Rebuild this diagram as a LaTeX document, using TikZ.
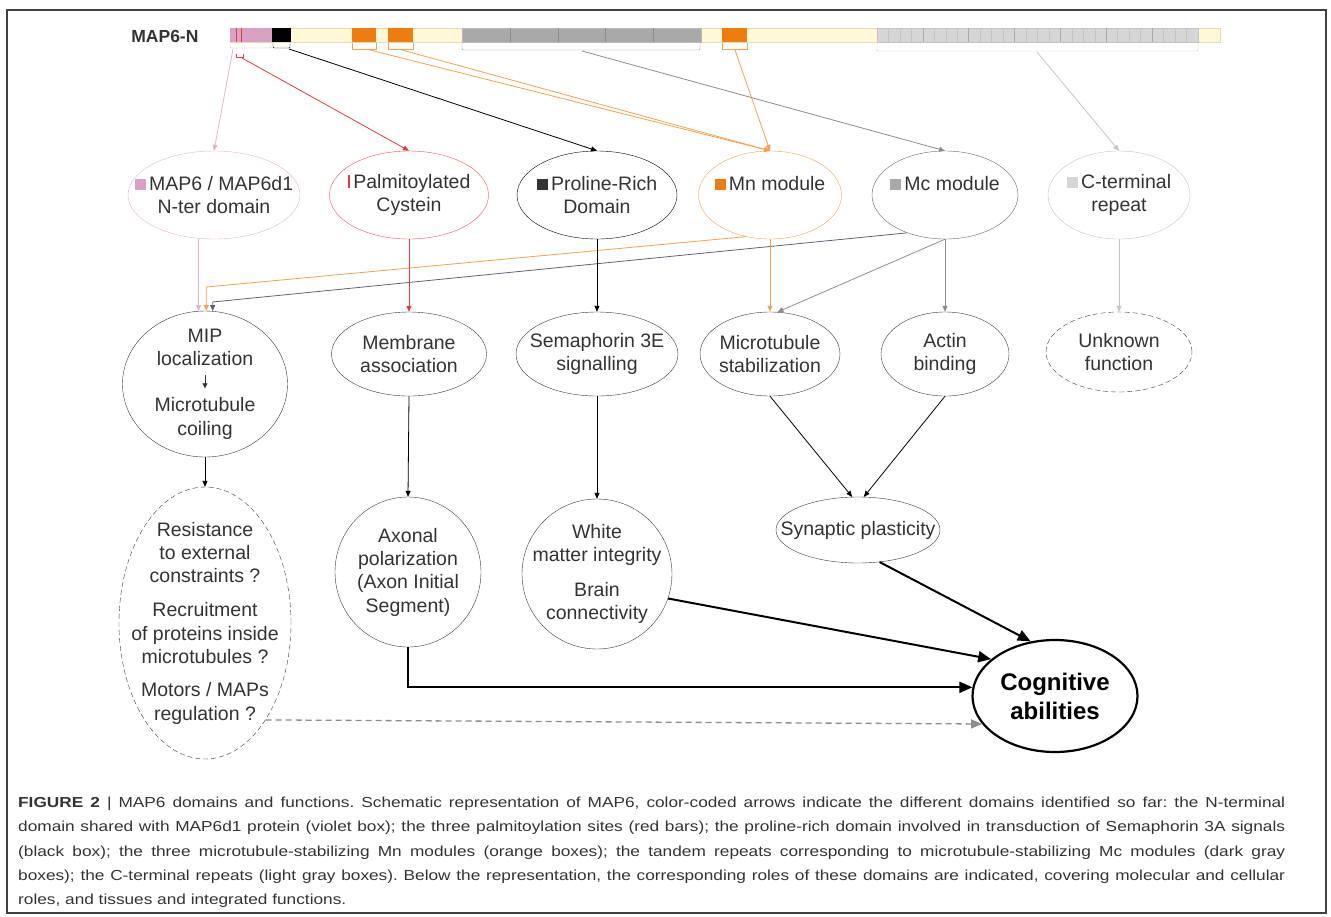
\documentclass[tikz,border=0pt]{standalone}
\usepackage{fontspec}
\setmainfont{Liberation Sans}
\newfontfamily\capfont[FakeStretch=1.19]{Liberation Sans}
\usetikzlibrary{arrows.meta,shapes.geometric}

\definecolor{txtgray}{HTML}{333333}
\definecolor{ntervio}{HTML}{D9A2C4}
\definecolor{nterline}{HTML}{E2B4CD}
\definecolor{palmred}{HTML}{E03A44}
\definecolor{mnorange}{HTML}{EE7D0E}
\definecolor{mnline}{HTML}{F2A24E}
\definecolor{mcgray}{HTML}{A9A9A9}
\definecolor{mcline}{HTML}{8C8C8C}
\definecolor{mcdark}{HTML}{5E6470}
\definecolor{ctgray}{HTML}{D6D6D6}
\definecolor{ctline}{HTML}{C4C4C4}
\definecolor{barfill}{HTML}{FFF8D6}
\definecolor{barline}{HTML}{E6DCB4}

\tikzset{
  linkarrow/.style={line width=0.8pt, -{Triangle[length=6pt,width=5pt]}},
  bigarrow/.style={line width=2pt, -{Triangle[length=13pt,width=11pt]}},
  dasharrow/.style={line width=1.3pt, dash pattern=on 6pt off 4pt, mcline, -{Triangle[length=11pt,width=9pt]}},
  dashedge/.style={dash pattern=on 5pt off 3pt},
  domnode/.style={ellipse, inner sep=-40pt, minimum height=88pt, align=center,
    text=txtgray, font=\fontsize{19.5}{23.3}\selectfont},
  rolenode/.style={ellipse, draw=black!78, inner sep=-40pt, minimum height=84pt, align=center,
    text=txtgray, font=\fontsize{19.5}{23.3}\selectfont},
  cogbox/.style={ellipse, draw=black, line width=2.2pt, inner sep=-40pt, minimum width=165pt,
    minimum height=112pt, align=center, font=\fontsize{24}{29}\selectfont\bfseries},
}

\begin{document}
\frenchspacing
\begin{tikzpicture}[x=1pt,y=-1pt]
\useasboundingbox (0,0) rectangle (1331,916);
% Frame
\draw[line width=2pt, black!75] (7,10) rectangle (1326,913);

% Protein bar
\node[anchor=east, text=txtgray, font=\fontsize{17.5}{20}\selectfont\bfseries] (prot) at (202,36) {MAP6-N};
\draw[barline, fill=barfill] (230,28) rectangle (1220,42);
\fill[ntervio] (230,28) rectangle (272,42);
\fill[palmred] (235.5,28) rectangle (237.3,42);
\fill[palmred] (240.5,28) rectangle (242.3,42);
\fill[black] (272,28) rectangle (291,42);
\foreach \a/\b in {352/376, 388/413, 722/747}
  \fill[mnorange] (\a,28) rectangle (\b,42);
\draw[mcline!60, fill=mcgray] (462,28) rectangle (701,42);
\foreach \x in {510,558,605,653}
  \draw[mcline] (\x,28) -- (\x,42);
\draw[ctline, fill=ctgray] (877,28) rectangle (1198,42);
\foreach \x in {1,...,27}
  \draw[ctline, line width=0.4pt] ({877+\x*11.46},28) -- ({877+\x*11.46},42);
\foreach \x in {1,...,6}
  \draw[mcgray, line width=0.6pt] ({877+\x*45.86},28) -- ({877+\x*45.86},42);

% Brackets under the bar
\draw[nterline, rounded corners=1pt] (230,43) -- (230,48) -- (271,48) -- (271,43);
\draw[palmred] (236,54) -- (236,57) -- (243,57) -- (243,54);
\draw[black, rounded corners=1pt] (273,43) -- (273,48) -- (290,48) -- (290,43);
\foreach \a/\b in {352/376, 388/413, 722/747}
  \draw[mnline] (\a,43) -- (\a,49) -- (\b,49) -- (\b,43);
\draw[mcline, rounded corners=1pt] (462,43) -- (462,50) -- (700,50) -- (700,43);
\draw[ctline, rounded corners=1pt] (877,43) -- (877,51) -- (1198,51) -- (1198,43);

\coordinate (ntertick) at (233,49);
\coordinate (palmtick) at (242,58);
\coordinate (prdtick) at (289,49);
\coordinate (mntickA) at (370,50);
\coordinate (mntickB) at (402,50);
\coordinate (mntickC) at (735,50);
\coordinate (mctick) at (582,51);
\coordinate (cttick) at (1037,52);

% Domains
\node[domnode, draw=nterline, minimum width=172pt] (nter) at (214,195)
  {\textcolor{ntervio}{\rule{11pt}{11pt}}\,MAP6 / MAP6d1\\N-ter domain};
\node[domnode, draw=palmred!85, minimum width=159pt] (palm) at (409,195)
  {\textcolor{palmred}{\rule{2.5pt}{13pt}}\,Palmitoylated\\Cystein};
\node[domnode, draw=black, minimum width=160pt] (prd) at (597,195)
  {\rule{11pt}{11pt}\,Proline-Rich\\Domain};
\node[domnode, draw=mnline, minimum width=143pt] (mn) at (770,195)
  {\textcolor{mnorange}{\rule{11pt}{11pt}}\,Mn module\\\mbox{}};
\node[domnode, draw=black!60, minimum width=146pt] (mc) at (945,195)
  {\textcolor{mcgray}{\rule{11pt}{11pt}}\,Mc module\\\mbox{}};
\node[domnode, draw=ctline, minimum width=142pt] (ct) at (1119,195)
  {\textcolor{ctgray}{\rule{11pt}{11pt}}\,C-terminal\\repeat};

% Roles
\node[rolenode, minimum width=165pt, minimum height=146pt] (mip) at (205,384)
  {MIP\\localization\\\tikz\draw[line width=0.7pt, -{Triangle[length=5pt,width=5pt]}] (0pt,13pt) -- (0pt,0pt);\\Microtubule\\coiling};
\node[rolenode, minimum width=155pt] (memb) at (409,354) {Membrane\\association};
\node[rolenode, minimum width=162pt] (sema) at (597,354) {Semaphorin 3E\\signalling};
\node[rolenode, minimum width=140pt] (mts) at (770,354) {Microtubule\\stabilization};
\node[rolenode, minimum width=128pt] (actin) at (945,354) {Actin\\binding};
\node[rolenode, dashedge, minimum width=146pt, minimum height=80pt] (unk) at (1119,352) {Unknown\\function};

% Functions
\node[rolenode, dashedge, minimum width=172pt, minimum height=272pt] (res) at (205,623)
  {Resistance\\to external\\constraints ?\\[11pt]Recruitment\\of proteins inside\\microtubules ?\\[10pt]Motors / MAPs\\regulation ?};
\node[rolenode, minimum width=146pt, minimum height=150pt] (axon) at (408,572)
  {Axonal\\polarization\\(Axon Initial\\Segment)};
\node[rolenode, minimum width=150pt, minimum height=150pt] (wm) at (597,574)
  {White\\matter integrity\\[11pt]Brain\\connectivity};
\node[rolenode, minimum width=164pt, minimum height=66pt] (syn) at (858,530) {Synaptic plasticity};
\node[cogbox] (cog) at (1055,696) {Cognitive\\abilities};

% Bar to domains
\draw[linkarrow, nterline] (ntertick) -- (nter.north);
\draw[linkarrow, palmred] (palmtick) -- (palm.north);
\draw[linkarrow, black] (prdtick) -- (prd.north);
\foreach \t in {mntickA, mntickB, mntickC}
  \draw[linkarrow, mnline] (\t) -- (mn.north);
\draw[linkarrow, mcline] (mctick) -- (mc.north);
\draw[linkarrow, ctline] (cttick) -- (ct.north);

% Domains to roles
\draw[linkarrow, nterline] (nter.south -| mip.95) -- (mip.95);
\draw[linkarrow, mnline] (mn.240) -- (mip.89 |- 0,287) -- (mip.89);
\draw[linkarrow, mcdark] (mc.225) -- (mip.84 |- 0,302) -- (mip.84);
\draw[linkarrow, palmred] (palm.south) -- (memb.north);
\draw[linkarrow, black] (prd.south) -- (sema.north);
\draw[linkarrow, mnline] (mn.south) -- (mts.north);
\draw[linkarrow, mcline] (mc.south) -- (mts.80);
\draw[linkarrow, mcline] (mc.south) -- (actin.north);
\draw[linkarrow, ctline] (ct.south) -- (unk.north);

% Roles to functions
\draw[linkarrow, black] (mip.south) -- (res.north);
\draw[linkarrow, black] (memb.south) -- (axon.north);
\draw[linkarrow, black] (sema.south) -- (wm.north);
\draw[linkarrow, black] (mts.south) -- (syn.100);
\draw[linkarrow, black] (actin.south) -- (syn.80);

% Integrated functions
\draw[bigarrow] (axon.south) |- (cog.174);
\draw[bigarrow] (wm.-19) -- (cog.150);
\draw[bigarrow] (syn.-56) -- (cog.114);
\draw[dasharrow] (res.-58) -- (cog.201);

% Caption
\node[anchor=north west, inner sep=0pt, align=left, text=txtgray,
  font=\capfont\fontsize{14.5}{24.2}\selectfont] (caption) at (18,797)
  {\makebox[1267pt][s]{\textbf{FIGURE 2} | MAP6 domains and functions. Schematic representation of MAP6, color-coded arrows indicate the different domains identified so far: the N-terminal}\\
   \makebox[1267pt][s]{domain shared with MAP6d1 protein (violet box); the three palmitoylation sites (red bars); the proline-rich domain involved in transduction of Semaphorin 3A signals}\\
   \makebox[1267pt][s]{(black box); the three microtubule-stabilizing Mn modules (orange boxes); the tandem repeats corresponding to microtubule-stabilizing Mc modules (dark gray}\\
   \makebox[1267pt][s]{boxes); the C-terminal repeats (light gray boxes). Below the representation, the corresponding roles of these domains are indicated, covering molecular and cellular}\\
   roles, and tissues and integrated functions.};
\end{tikzpicture}
\end{document}
